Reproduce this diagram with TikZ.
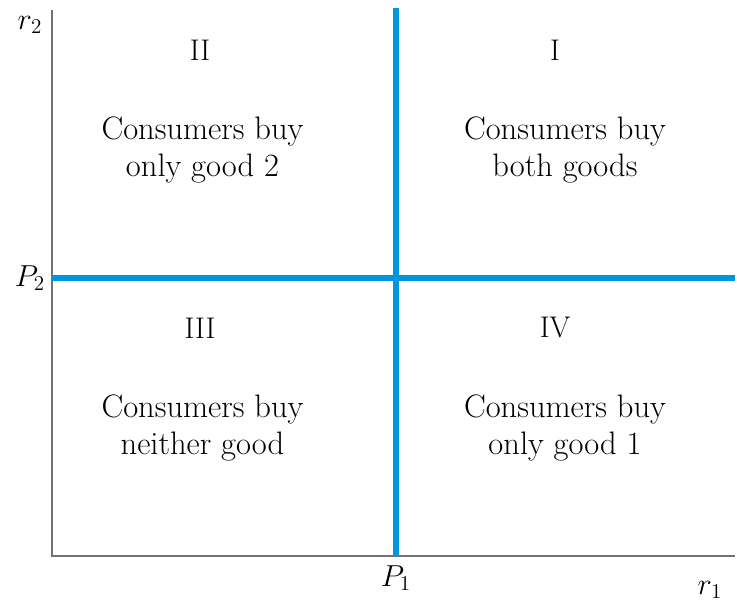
\documentclass[tikz,border=0pt]{standalone}
\usepackage{amsmath}
\usetikzlibrary{positioning}
\definecolor{lineblue}{RGB}{0,150,220}
\definecolor{axisgray}{RGB}{115,115,115}
\tikzset{axis/.style={draw=axisgray,line width=1.2pt},
    border/.style={draw=lineblue,line width=2.9pt},
    region/.style={align=center,font=\fontsize{18.5}{21}\selectfont},
    numeral/.style={font=\fontsize{17}{21}\selectfont},
    axlabel/.style={font=\fontsize{18}{21}\selectfont}}

\begin{document}
\begin{tikzpicture}
            \useasboundingbox (0,0) rectangle (14.74,12.08);
            % axes
            \coordinate (origin) at (1.04,0.96);
            \coordinate (ytop) at (1.04,11.88);
            \coordinate (xend) at (14.70,0.96);
            \draw[axis] (ytop) -- (origin) -- (xend);
            % reservation prices
            \coordinate (p1top) at (7.92,11.92);
            \coordinate (p1bot) at (7.92,0.96);
            \coordinate (p2left) at (1.04,6.52);
            \coordinate (p2right) at (14.70,6.52);
            \draw[border] (p1bot) -- (p1top);
            \draw[border] (p2left) -- (p2right);
            \node[axlabel] (r2) at (0.6,11.58) {$r_2$};
            \node[axlabel] (P2) at (0.6,6.52) {$P_2$};
            \node[axlabel] (P1) at (7.92,0.52) {$P_1$};
            \node[axlabel] (r1) at (14.2,0.28) {$r_1$};
            \node[numeral] (II) at (4.0,11.08) {II};
            \node[numeral] (I) at (11.1,11.08) {I};
            \node[numeral] (III) at (4.0,5.52) {III};
            \node[numeral] (IV) at (11.1,5.52) {IV};
            \node[region] (onlytwo) at (4.05,9.08) {Consumers buy\\only good 2};
            \node[region] (both) at (11.3,9.08) {Consumers buy\\both goods};
            \node[region] (neither) at (4.05,3.52) {Consumers buy\\neither good};
            \node[region] (onlyone) at (11.3,3.52) {Consumers buy\\only good 1};
        \end{tikzpicture}
\end{document}
